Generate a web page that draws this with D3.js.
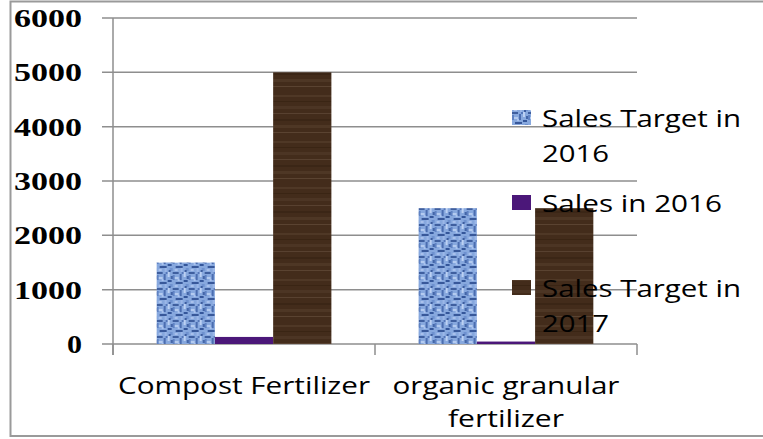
<!DOCTYPE html>
<html>
<head>
<meta charset="utf-8">
<script src="https://cdn.jsdelivr.net/npm/d3@7"></script>
<style>
  body { margin: 0; background: #fff; }
  svg { display: block; }
</style>
</head>
<body>
<div id="chart"></div>
<script>
// data
var categories = ["Compost Fertilizer", "organic granular fertilizer"];
var categoryLines = [["Compost Fertilizer"], ["organic granular", "fertilizer"]];
var seriesNames = ["Sales Target in 2016", "Sales in 2016", "Sales Target in 2017"];
var legendLines = [["Sales Target in", "2016"], ["Sales in 2016"], ["Sales Target in", "2017"]];
var target2016 = [1500, 2500];
var sales2016 = [130, 45];
var target2017 = [5000, 2500];
var yTicks = [0, 1000, 2000, 3000, 4000, 5000, 6000];

var width = 763, height = 439;

var svg = d3.select("#chart").append("svg")
    .attr("width", width)
    .attr("height", height);

////////// textures //////////
var defs = svg.append("defs");

// blue canvas
var canvas = defs.append("pattern")
    .attr("id", "canvas")
    .attr("patternUnits", "userSpaceOnUse")
    .attr("width", 16).attr("height", 16);
canvas.append("rect").attr("width", 16).attr("height", 16).attr("fill", "#87a8de");
var weave = [[0,0,6,2,"#3f5f9f"],[7,2,2,6,"#4b6db0"],[1,5,5,2,"#b4cbf0"],[11,0,2,5,"#bcd1f3"],
             [3,10,7,2,"#38589a"],[0,3,2,5,"#5f82c3"],[11,8,4,2,"#34569a"],[5,7,2,2,"#aac3ee"],
             [13,12,3,3,"#6e91cf"],[9,0,2,2,"#5577ba"],[2,13,3,2,"#a9c1ec"],[14,4,2,3,"#4466a8"],
             [8,12,2,4,"#9bb7e8"],[12,14,2,2,"#3d5d9e"]];
weave.forEach(function(w) {
  canvas.append("rect").attr("x", w[0]).attr("y", w[1])
    .attr("width", w[2]).attr("height", w[3]).attr("fill", w[4]);
});

// brown wood
var wood = defs.append("pattern")
    .attr("id", "wood")
    .attr("patternUnits", "userSpaceOnUse")
    .attr("width", 60).attr("height", 46);
wood.append("rect").attr("width", 60).attr("height", 46).attr("fill", "#432c1b");
var streaks = [[3,2,"#4f3826"],[9,1,"#3a2514"],[14,3,"#4c3524"],[21,1,"#584130"],
               [27,2,"#3b2616"],[33,3,"#4e3725"],[40,1,"#5a4331"]];
streaks.forEach(function(s) {
  wood.append("rect").attr("x", 0).attr("y", s[0])
    .attr("width", 60).attr("height", s[1]).attr("fill", s[2]);
});

var fills = ["url(#canvas)", "#4b1779", "url(#wood)"];

////////// frame //////////
svg.append("path")
    .attr("d", "M" + (width + 2) + ",1.5 H10.5 V436 H" + (width + 2))
    .attr("fill", "none")
    .attr("stroke", "#9a9a9a")
    .attr("stroke-width", 2);

////////// scales //////////
var x0 = d3.scaleBand()
    .domain(categories)
    .range([113, 637])
    .paddingInner(0.333)
    .paddingOuter(0.1667);

var x1 = d3.scaleBand()
    .domain(seriesNames)
    .range([0, x0.bandwidth()]);

var y = d3.scaleLinear()
    .domain([0, 6000])
    .range([344, 18]);

// gridlines
svg.append("g").selectAll("line")
  .data(yTicks)
  .enter().append("line")
    .attr("x1", 102).attr("x2", 637)
    .attr("y1", function(d) { return y(d); })
    .attr("y2", function(d) { return y(d); })
    .attr("stroke", "#8e8e8e")
    .attr("stroke-width", 1.5);

// y axis labels
var yAxis = svg.append("g")
    .attr("transform", "translate(113,0)")
    .call(d3.axisLeft(y).tickValues(yTicks).tickSize(11).tickPadding(20).tickFormat(d3.format("d")));
yAxis.select(".domain").remove();
yAxis.selectAll(".tick line").remove();
yAxis.selectAll("text")
    .attr("font-family", "'Liberation Serif', 'Times New Roman', serif")
    .attr("font-weight", "bold")
    .attr("font-size", 25)
    .attr("fill", "#000")
    .attr("dy", "0.34em")
    .attr("textLength", function(d) { return d === 0 ? 15 : 68; })
    .attr("lengthAdjust", "spacingAndGlyphs");

// axis lines
svg.append("line")
    .attr("x1", 113).attr("x2", 113).attr("y1", 18).attr("y2", 355)
    .attr("stroke", "#8e8e8e").attr("stroke-width", 1.5);
var bounds = [113, 375, 637];
svg.append("g").selectAll("line")
  .data(bounds)
  .enter().append("line")
    .attr("x1", function(d) { return d; })
    .attr("x2", function(d) { return d; })
    .attr("y1", 344).attr("y2", 355)
    .attr("stroke", "#8e8e8e").attr("stroke-width", 1.5);

////////// bars //////////
var rows = categories.map(function(c, i) {
  return [
    {cat: c, s: seriesNames[0], v: target2016[i], k: 0},
    {cat: c, s: seriesNames[1], v: sales2016[i], k: 1},
    {cat: c, s: seriesNames[2], v: target2017[i], k: 2}
  ];
});

svg.append("g").selectAll("g")
  .data(rows)
  .enter().append("g")
    .attr("transform", function(d) { return "translate(" + x0(d[0].cat) + ",0)"; })
  .selectAll("rect")
  .data(function(d) { return d; })
  .enter().append("rect")
    .attr("x", function(d) { return x1(d.s); })
    .attr("width", x1.bandwidth())
    .attr("y", function(d) { return y(d.v); })
    .attr("height", function(d) { return y(0) - y(d.v); })
    .attr("fill", function(d) { return fills[d.k]; });

////////// category labels //////////
var labelFont = "'Open Sans', 'Noto Sans', sans-serif";
var catWidths = [[252], [227, 116]];
categoryLines.forEach(function(lines, i) {
  var cx = x0(categories[i]) + x0.bandwidth() / 2;
  lines.forEach(function(t, j) {
    svg.append("text")
      .attr("x", cx)
      .attr("y", 394 + j * 33)
      .attr("text-anchor", "middle")
      .attr("font-family", labelFont)
      .attr("font-size", 23)
      .attr("fill", "#000")
      .attr("textLength", catWidths[i][j])
      .attr("lengthAdjust", "spacingAndGlyphs")
      .text(t);
  });
});

////////// legend //////////
var legendY = [127, 212, 297];
var legendWidths = [[199, 67], [180], [199, 67]];
var legend = svg.append("g");
legendLines.forEach(function(lines, i) {
  legend.append("rect")
    .attr("x", 512).attr("y", legendY[i] - 17)
    .attr("width", 19).attr("height", 15)
    .attr("fill", fills[i]);
  lines.forEach(function(t, j) {
    legend.append("text")
      .attr("x", 542)
      .attr("y", legendY[i] + j * 35)
      .attr("font-family", labelFont)
      .attr("font-size", 24)
      .attr("fill", "#000")
      .attr("textLength", legendWidths[i][j])
      .attr("lengthAdjust", "spacingAndGlyphs")
      .text(t);
  });
});
</script>
</body>
</html>
